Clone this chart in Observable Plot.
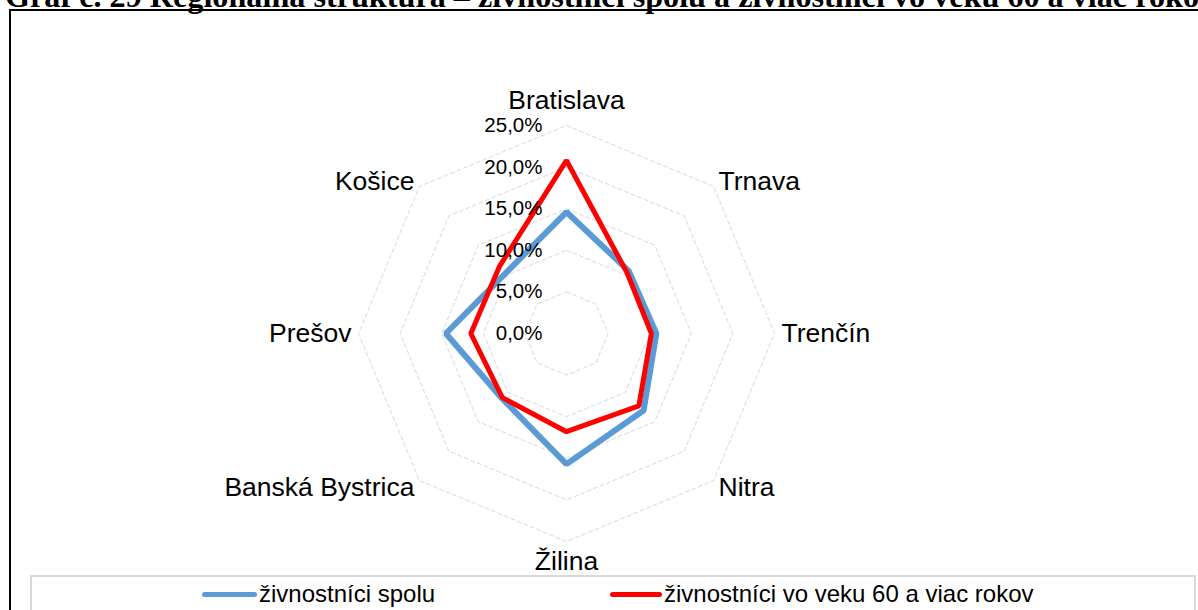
<!DOCTYPE html>
<html>
<head>
<meta charset="utf-8">
<script src="https://cdn.jsdelivr.net/npm/d3@7"></script>
<script src="https://cdn.jsdelivr.net/npm/@observablehq/plot@0.6"></script>
<style>
  html, body { margin: 0; padding: 0; background: #fff; }
  #page { position: relative; width: 1198px; height: 610px; overflow: hidden; background: #fff; }
  #frame { position: absolute; left: 9px; top: 9px; width: 1300px; height: 700px; border: 2px solid #000; box-sizing: border-box; }
  #title { position: absolute; left: 0; top: 0; }
  #chart { position: absolute; left: 0; top: 0; }
  #legend { position: absolute; left: 30px; top: 575px; width: 1166px; height: 60px; border: 2px solid #d9d9d9; box-sizing: border-box; background: #fff;
            font-family: "Liberation Sans", Arial, sans-serif; font-size: 24px; color: #000; }
  .item { position: absolute; top: 3px; height: 28px; line-height: 28px; white-space: nowrap; }
  .sw { display: inline-block; vertical-align: middle; height: 5px; border-radius: 3px; margin-right: 2px; position: relative; top: -1px; }
</style>
</head>
<body>
<div id="page">
  <div id="frame"></div>
  <svg id="title" width="1198" height="20"><text id="ttext" x="5" y="7" font-family="Liberation Serif, Times New Roman, serif" font-weight="bold" font-size="27" fill="#000"></text></svg>
  <div id="chart"></div>
  <div id="legend"></div>
</div>
<script>
const titleText = "Graf č. 29 Regionálna štruktúra – živnostníci spolu a živnostníci vo veku 60 a viac rokov";
const categories = ["Bratislava", "Trnava", "Trenčín", "Nitra", "Žilina", "Banská Bystrica", "Prešov", "Košice"];
const spolu = [14.6, 10.6, 10.8, 13.1, 15.7, 11.0, 14.5, 10.3];
const vek60 = [20.8, 10.3, 10.2, 12.3, 11.8, 10.9, 11.5, 11.4];
const seriesNames = ["živnostníci spolu", "živnostníci vo veku 60 a viac rokov"];
const seriesColors = ["#5b9bd5", "#ff0000"];
const tickValues = [0, 5, 10, 15, 20, 25];
const tickLabels = ["0,0%", "5,0%", "10,0%", "15,0%", "20,0%", "25,0%"];

// title (clipped at top like the reference); size it so that "...a viac roko" reaches the right edge
const tt = document.getElementById("ttext");
tt.textContent = titleText;
const cnv = document.createElement("canvas").getContext("2d");
cnv.font = "bold 100px 'Liberation Serif'";
const wPrefix = cnv.measureText(titleText.slice(0, -1)).width;
const fs = Math.max(20, Math.min(40, 100 * 1193 / wPrefix));
tt.setAttribute("font-size", fs.toFixed(1));

const n = categories.length;
const ang = i => (2 * Math.PI * i) / n;
const px = (i, r) => r * Math.sin(ang(i));
const py = (i, r) => r * Math.cos(ang(i));

const rings = [];
tickValues.filter(t => t > 0).forEach(t => {
  categories.forEach((c, i) => rings.push({ t, x: px(i, t), y: py(i, t) }));
});

const series = [];
[spolu, vek60].forEach((vals, s) => {
  vals.forEach((v, i) => series.push({ s: seriesNames[s], x: px(i, v), y: py(i, v) }));
});

const ticks = tickValues.map((v, i) => ({ v, label: tickLabels[i] }));
const maxR = tickValues[tickValues.length - 1];
const cats = categories.map((c, i) => ({ c, i, sin: Math.round(Math.sin(ang(i)) * 1000) / 1000, cos: Math.round(Math.cos(ang(i)) * 1000) / 1000 }));

const cx = 566, cy = 333, R = 208;
const font = "Liberation Sans, Arial, sans-serif";
const labelSize = 26.5;

const sideLabel = (filter, anchor, dx, dy) => Plot.text(cats.filter(filter), {
  x: d => d.sin * maxR, y: d => d.cos * maxR, text: "c", textAnchor: anchor, dx, dy, fontSize: labelSize, fill: "#000"
});

const chart = Plot.plot({
  width: 1198,
  height: 575,
  style: { background: "transparent", fontFamily: font, overflow: "visible" },
  x: { domain: [-maxR, maxR], range: [cx - R, cx + R], axis: null },
  y: { domain: [-maxR, maxR], range: [cy + R, cy - R], axis: null },
  marks: [
    Plot.line(rings, { x: "x", y: "y", z: "t", curve: "linear-closed", stroke: "#d9d9d9", strokeWidth: 1, strokeDasharray: "4,3" }),
    Plot.line(series.filter(d => d.s === seriesNames[0]), { x: "x", y: "y", curve: "linear-closed", stroke: seriesColors[0], strokeWidth: 6, strokeLinejoin: "miter" }),
    Plot.line(series.filter(d => d.s === seriesNames[1]), { x: "x", y: "y", curve: "linear-closed", stroke: seriesColors[1], strokeWidth: 5, strokeLinejoin: "miter" }),
    Plot.text(ticks, { x: () => 0, y: "v", text: "label", textAnchor: "end", dx: -24, fontSize: 20.5, fill: "#000" }),
    // category labels
    sideLabel(d => d.sin > 0.01 && d.cos > 0.01, "start", 5, -5),
    sideLabel(d => d.sin > 0.01 && Math.abs(d.cos) <= 0.01, "start", 7, 0),
    sideLabel(d => d.sin > 0.01 && d.cos < -0.01, "start", 5, 7),
    sideLabel(d => d.sin < -0.01 && d.cos > 0.01, "end", -5, -5),
    sideLabel(d => d.sin < -0.01 && Math.abs(d.cos) <= 0.01, "end", -7, 0),
    sideLabel(d => d.sin < -0.01 && d.cos < -0.01, "end", -5, 7),
    sideLabel(d => Math.abs(d.sin) <= 0.01 && d.cos > 0, "middle", 0, -25),
    sideLabel(d => Math.abs(d.sin) <= 0.01 && d.cos < 0, "middle", 0, 20)
  ]
});
document.getElementById("chart").appendChild(chart);

// legend
const legend = document.getElementById("legend");
const legendX = [170, 578];
seriesNames.forEach((name, s) => {
  const item = document.createElement("div");
  item.className = "item";
  item.style.left = legendX[s] + "px";
  const sw = document.createElement("span");
  sw.className = "sw";
  sw.style.width = (s === 0 ? 55 : 52) + "px";
  sw.style.background = seriesColors[s];
  item.appendChild(sw);
  item.appendChild(document.createTextNode(name));
  legend.appendChild(item);
});
</script>
</body>
</html>
